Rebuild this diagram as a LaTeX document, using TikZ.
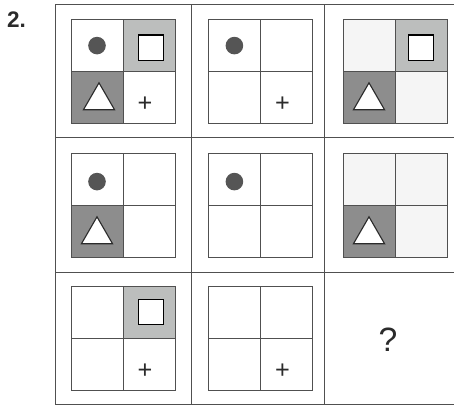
\documentclass[tikz,border=0pt]{standalone}
\usepackage{fontspec}
\setmainfont{Liberation Sans}
\usetikzlibrary{positioning,shapes.geometric}
\definecolor{ink}{HTML}{2B2B2B}
\definecolor{line}{HTML}{505050}
\definecolor{palefill}{HTML}{F5F5F5}
\definecolor{squarefill}{HTML}{BCBEBD}
\definecolor{trianglefill}{HTML}{8D8D8D}
\definecolor{dotfill}{HTML}{555555}

\begin{document}
\begin{tikzpicture}[
  text=ink,
  frame/.style={draw=line, line width=0.6pt},
  cell/.style={
    draw=line,
    line width=0.6pt,
    outer sep=0pt,
    inner sep=0pt,
    minimum size=1.3cm,
    fill=white
  },
  pale/.style={cell, fill=palefill},
  sqcell/.style={cell, fill=squarefill},
  tricell/.style={cell, fill=trianglefill},
  dot/.style={circle, fill=dotfill, inner sep=0pt, minimum size=0.44cm},
  sq/.style={draw=black, line width=0.8pt, fill=white, inner sep=0pt, minimum size=0.63cm},
  tri/.style={
    regular polygon,
    regular polygon sides=3,
    draw=ink,
    line width=0.8pt,
    fill=white,
    inner sep=0pt,
    minimum size=0.9cm
  },
  plus/.style={font=\fontsize{18}{20}\selectfont, inner sep=0pt},
  node distance=0pt
]
\useasboundingbox (0,0) rectangle (11.35,10.15);

% Outer grid
\draw[frame] (1.375,10.05) -- (11.35,10.05);
\draw[frame] (1.375,6.725) -- (11.35,6.725);
\draw[frame] (1.375,3.35) -- (11.35,3.35);
\draw[frame] (1.375,0.05) -- (11.35,0.05);
\draw[frame] (1.375,0.05) -- (1.375,10.05);
\draw[frame] (4.775,0.05) -- (4.775,10.05);
\draw[frame] (8.1,0.05) -- (8.1,10.05);

\node[font=\fontsize{16}{18}\selectfont\bfseries] (number) at (0.41,9.66) {2.};

% Row 1
\node[cell] (r1c1tl) at (2.425,9.01) {};
\node[sqcell, right=of r1c1tl] (r1c1tr) {};
\node[tricell, below=of r1c1tl] (r1c1bl) {};
\node[cell, right=of r1c1bl] (r1c1br) {};
\node[dot] (r1c1dot) at (r1c1tl) {};
\node[sq] (r1c1sq) at ([xshift=0.05cm,yshift=-0.05cm]r1c1tr) {};
\node[tri] (r1c1tri) at ([xshift=0.05cm,yshift=-0.08cm]r1c1bl) {};
\node[plus] (r1c1plus) at ([xshift=-0.1cm,yshift=-0.17cm]r1c1br) {+};

\node[cell] (r1c2tl) at (5.86,9.01) {};
\node[cell, right=of r1c2tl] (r1c2tr) {};
\node[cell, below=of r1c2tl] (r1c2bl) {};
\node[cell, right=of r1c2bl] (r1c2br) {};
\node[dot] (r1c2dot) at (r1c2tl) {};
\node[plus] (r1c2plus) at ([xshift=-0.1cm,yshift=-0.17cm]r1c2br) {+};

\node[pale] (r1c3tl) at (9.225,9.01) {};
\node[sqcell, right=of r1c3tl] (r1c3tr) {};
\node[tricell, below=of r1c3tl] (r1c3bl) {};
\node[pale, right=of r1c3bl] (r1c3br) {};
\node[sq] (r1c3sq) at ([yshift=-0.05cm]r1c3tr) {};
\node[tri] (r1c3tri) at ([yshift=-0.08cm]r1c3bl) {};

% Row 2
\node[cell] (r2c1tl) at (2.425,5.66) {};
\node[cell, right=of r2c1tl] (r2c1tr) {};
\node[tricell, below=of r2c1tl] (r2c1bl) {};
\node[cell, right=of r2c1bl] (r2c1br) {};
\node[dot] (r2c1dot) at ([yshift=-0.05cm]r2c1tl) {};
\node[tri] (r2c1tri) at ([yshift=-0.08cm]r2c1bl) {};

\node[cell] (r2c2tl) at (5.86,5.66) {};
\node[cell, right=of r2c2tl] (r2c2tr) {};
\node[cell, below=of r2c2tl] (r2c2bl) {};
\node[cell, right=of r2c2bl] (r2c2br) {};
\node[dot] (r2c2dot) at ([yshift=-0.05cm]r2c2tl) {};

\node[pale] (r2c3tl) at (9.225,5.66) {};
\node[pale, right=of r2c3tl] (r2c3tr) {};
\node[tricell, below=of r2c3tl] (r2c3bl) {};
\node[pale, right=of r2c3bl] (r2c3br) {};
\node[tri] (r2c3tri) at ([yshift=-0.08cm]r2c3bl) {};

% Row 3
\node[cell] (r3c1tl) at (2.425,2.35) {};
\node[sqcell, right=of r3c1tl] (r3c1tr) {};
\node[cell, below=of r3c1tl] (r3c1bl) {};
\node[cell, right=of r3c1bl] (r3c1br) {};
\node[sq] (r3c1sq) at ([xshift=0.05cm]r3c1tr) {};
\node[plus] (r3c1plus) at ([xshift=-0.1cm,yshift=-0.17cm]r3c1br) {+};

\node[cell] (r3c2tl) at (5.86,2.35) {};
\node[cell, right=of r3c2tl] (r3c2tr) {};
\node[cell, below=of r3c2tl] (r3c2bl) {};
\node[cell, right=of r3c2bl] (r3c2br) {};
\node[plus] (r3c2plus) at ([xshift=-0.1cm,yshift=-0.17cm]r3c2br) {+};

\node[font=\fontsize{24}{28}\selectfont] (missing) at (9.7,1.65) {?};

\end{tikzpicture}
\end{document}
